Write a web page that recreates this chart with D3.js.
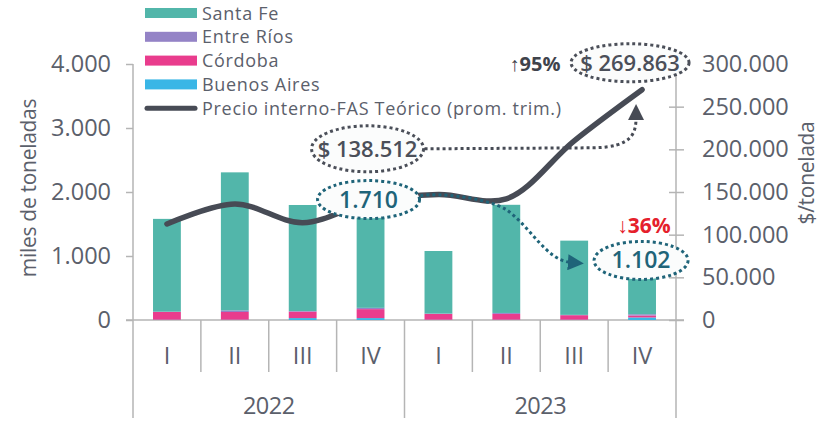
<!DOCTYPE html>
<html><head><meta charset="utf-8">
<script src="https://cdn.jsdelivr.net/npm/d3@7/dist/d3.min.js"></script>
<style>
body{margin:0;background:#fff;}
text{font-family:"Open Sans",sans-serif;}
</style></head>
<body><svg id="c" width="831" height="421"></svg>
<script>
const quarters = ["I","II","III","IV","I","II","III","IV"];
const years = ["2022","2023"];
const keys = ["2022-I","2022-II","2022-III","2022-IV","2023-I","2023-II","2023-III","2023-IV"];
const buenosAires = [5, 5, 30, 30, 5, 5, 5, 40];
const cordoba = [120, 120, 100, 140, 90, 90, 70, 30];
const entreRios = [5, 25, 10, 20, 5, 15, 5, 20];
const santaFe = [1450, 2157, 1657, 1520, 978, 1690, 1160, 1012];
const precio = [112500, 136000, 114000, 138512, 147000, 142000, 210000, 269863];
const leftTicks = [0,1000,2000,3000,4000];
const rightTicks = [0,50000,100000,150000,200000,250000,300000];
const seriesNames = ["Buenos Aires","Córdoba","Entre Ríos","Santa Fe"];
const seriesColors = {"Santa Fe":"#52b6aa","Entre Ríos":"#9483c6","Córdoba":"#e93c8d","Buenos Aires":"#3ab6e6"};
const lineColor = "#474b55";
const textColor = "#5b606b";
const teal = "#1f6479";

const svg = d3.select("#c");
const fmt = d => d3.format(",")(d).replace(/,/g,".");

const x = d3.scaleBand().domain(keys).range([133,676]).paddingInner(0.59).paddingOuter(0.295);
const yL = d3.scaleLinear().domain([0,4000]).range([320,64]);
const yR = d3.scaleLinear().domain([0,300000]).range([320,64]);
const cx = k => x(k) + x.bandwidth()/2;

const table = keys.map((k,i)=>({key:k,"Buenos Aires":buenosAires[i],"Córdoba":cordoba[i],"Entre Ríos":entreRios[i],"Santa Fe":santaFe[i]}));
const stack = d3.stack().keys(seriesNames)(table);

// axes
const gL = svg.append("g").attr("transform","translate(133,0)")
  .call(d3.axisLeft(yL).tickValues(leftTicks).tickSize(7).tickFormat(fmt));
const gR = svg.append("g").attr("transform","translate(676,0)")
  .call(d3.axisRight(yR).tickValues(rightTicks).tickSize(8).tickFormat(fmt));
[gL,gR].forEach(g=>{
  g.select(".domain").remove();
  g.selectAll("line").attr("stroke","#b5b5b5").attr("stroke-width",1.5);
  g.selectAll("text").attr("fill",textColor).attr("font-size",23.5);
});
gL.selectAll("text").attr("x",-22);
gR.selectAll("text").attr("x",26);
gR.selectAll(".tick line").attr("x1",-7);
svg.append("line").attr("x1",133).attr("x2",133).attr("y1",yL(4000)).attr("y2",418).attr("stroke","#b5b5b5").attr("stroke-width",1.5);
svg.append("line").attr("x1",676).attr("x2",676).attr("y1",yR(300000)).attr("y2",418).attr("stroke","#b5b5b5").attr("stroke-width",1.5);
svg.append("line").attr("x1",126).attr("x2",684).attr("y1",320).attr("y2",320).attr("stroke","#b5b5b5").attr("stroke-width",1.5);
const step = x.step();
keys.forEach((k,i)=>{
  if(i===0) return;
  const xx = x(k) - x.paddingInner()*step/2;
  svg.append("line").attr("x1",xx).attr("x2",xx).attr("y1",320).attr("y2", i===4?418:372)
    .attr("stroke","#b5b5b5").attr("stroke-width",1.5);
});
svg.append("g").selectAll("text").data(keys).join("text")
  .attr("x",k=>cx(k)).attr("y",364).attr("text-anchor","middle")
  .attr("fill",textColor).attr("font-size",23.5).text((k,i)=>quarters[i]);
years.forEach((yr,j)=>{
  const ks = keys.filter(k=>k.startsWith(yr));
  const mid = (cx(ks[0])+cx(ks[ks.length-1]))/2;
  svg.append("text").attr("x",mid).attr("y",414).attr("text-anchor","middle")
    .attr("fill",textColor).attr("font-size",23.5).attr("letter-spacing",-0.5).text(yr);
});
svg.append("text").attr("transform","translate(36,188) rotate(-90)").attr("text-anchor","middle")
  .attr("fill",textColor).attr("font-size",21).attr("letter-spacing",-0.3).text("miles de toneladas");
svg.append("text").attr("transform","translate(814,173) rotate(-90)").attr("text-anchor","middle")
  .attr("fill",textColor).attr("font-size",21).attr("letter-spacing",-0.3).text("$/tonelada");

// bars
svg.append("g").selectAll("g").data(stack).join("g")
  .attr("fill",d=>seriesColors[d.key])
  .selectAll("rect").data(d=>d).join("rect")
  .attr("x",d=>x(d.data.key)).attr("width",x.bandwidth())
  .attr("y",d=>yL(d[1])).attr("height",d=>yL(d[0])-yL(d[1]));

// price line
const line = d3.line().x((d,i)=>cx(keys[i])).y(d=>yR(d)).curve(d3.curveCatmullRom.alpha(0.5));
svg.append("path").datum(precio).attr("d",line).attr("fill","none")
  .attr("stroke",lineColor).attr("stroke-width",5.5).attr("stroke-linecap","round");

const defs = svg.append("defs");
function marker(id,color){
  defs.append("marker").attr("id",id).attr("viewBox","0 0 10 10").attr("refX",2).attr("refY",5)
    .attr("orient","auto").attr("markerUnits","userSpaceOnUse")
    .attr("markerWidth",16).attr("markerHeight",16)
    .append("path").attr("d","M0,0 L10,5 L0,10 Z").attr("fill",color);
}
marker("arrGray",lineColor);
marker("arrTeal",teal);

const iIV22 = 3, iI23 = 4, iII23 = 5, iIV23 = 7;
const tot22 = santaFe[iIV22]+cordoba[iIV22]+entreRios[iIV22]+buenosAires[iIV22];
const tot23 = santaFe[iIV23]+cordoba[iIV23]+entreRios[iIV23]+buenosAires[iIV23];
const a1 = {x: cx(keys[iIV22]) - 3, y: yR(precio[iIV22]) - 53};
const a2 = {x: cx(keys[iIV22]) - 2, y: yL(tot22) - 11};
const a3 = {x: cx(keys[iIV23]) - 12, y: yR(precio[iIV23]) - 27};
const a4 = {x: cx(keys[iIV23]) - 1, y: yL(tot23) + 11};

svg.append("path")
  .attr("d",`M${a1.x+57},${a1.y} L${cx(keys[6])+20},${a1.y-1} C${cx(keys[iIV23])-10},${a1.y-2} ${cx(keys[iIV23])-6},${a1.y-15} ${cx(keys[iIV23])-6},${a1.y-32}`)
  .attr("fill","none").attr("stroke",lineColor).attr("stroke-width",3).attr("stroke-dasharray","3,3")
  .attr("marker-end","url(#arrGray)");
svg.append("path")
  .attr("d",`M${a2.x+52},${a2.y-4} C${cx(keys[iI23])},${a2.y-7} ${cx(keys[iII23])-20},${a2.y-2} ${cx(keys[iII23])},${a2.y+10} C${cx(keys[iII23])+25},${a2.y+28} ${cx(keys[iII23])+40},${a4.y} ${a4.x-70},${a4.y+2}`)
  .attr("fill","none").attr("stroke",teal).attr("stroke-width",3).attr("stroke-dasharray","3,3")
  .attr("marker-end","url(#arrTeal)");

function bubble(a,rx,ry,color,label,size,weight){
  svg.append("ellipse").attr("cx",a.x).attr("cy",a.y).attr("rx",rx).attr("ry",ry)
    .attr("fill","#fbfcfc").attr("stroke",color).attr("stroke-width",3).attr("stroke-dasharray","3,3");
  svg.append("text").attr("x",a.x).attr("y",a.y+8).attr("text-anchor","middle")
    .attr("font-family","Roboto").attr("fill",color).attr("font-size",size).attr("font-weight",weight).text(label);
}
bubble(a1,56,23,"#4b4f59","$ 138.512",22,600);
bubble(a2,51,19,teal,fmt(tot22),23,600);
bubble(a3,59,19,"#4b4f59","$ 269.863",22,600);
bubble(a4,47,19,teal,fmt(tot23),23,600);

svg.append("text").attr("x",a3.x-95).attr("y",a3.y+8).attr("fill","#3f434c").attr("font-size",20)
  .attr("font-family","Roboto").attr("font-weight",700).attr("text-anchor","middle").text("↑95%");
svg.append("text").attr("x",a4.x+3).attr("y",a4.y-27).attr("fill","#e5202b").attr("font-size",21)
  .attr("font-family","Roboto").attr("font-weight",700).attr("text-anchor","middle").text("↓36%");

// legend
const legendItems = ["Santa Fe","Entre Ríos","Córdoba","Buenos Aires"];
legendItems.forEach((n,i)=>{
  const yy = 13 + i*23.8;
  svg.append("rect").attr("x",145).attr("y",yy-5).attr("width",52).attr("height",10).attr("fill",seriesColors[n]);
  svg.append("text").attr("x",202).attr("y",yy+6.5).attr("fill",textColor).attr("font-family","Roboto").attr("font-size",18).attr("letter-spacing",0.7).text(n);
});
const yy = 13 + 4*23.8;
svg.append("line").attr("x1",147).attr("x2",195).attr("y1",yy).attr("y2",yy).attr("stroke",lineColor).attr("stroke-width",5).attr("stroke-linecap","round");
svg.append("text").attr("x",202).attr("y",yy+6.5).attr("fill",textColor).attr("font-family","Roboto").attr("font-size",18).attr("letter-spacing",0.7).text("Precio interno-FAS Teórico (prom. trim.)");
</script></body></html>
